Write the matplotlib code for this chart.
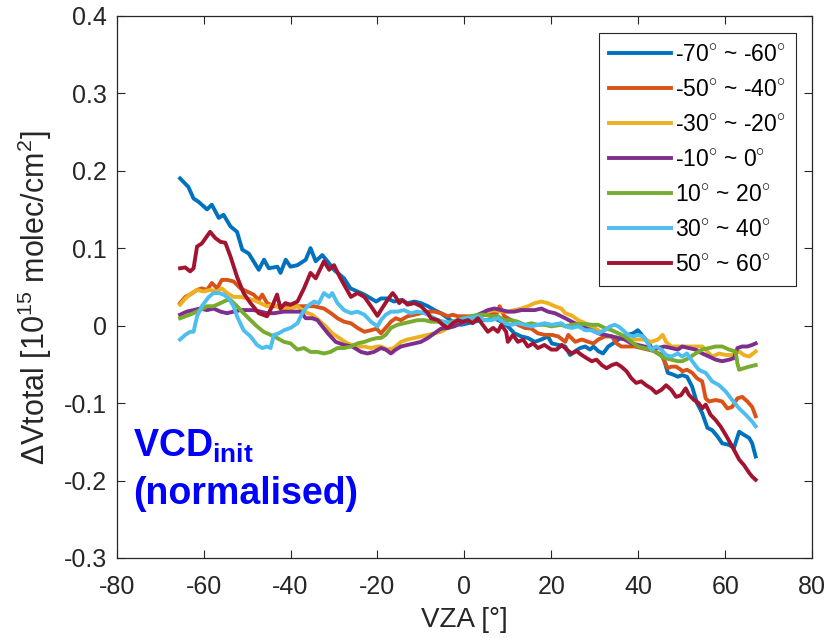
import matplotlib
matplotlib.use("Agg")
import matplotlib.pyplot as plt

plt.rcParams['font.family'] = ['Liberation Sans', 'DejaVu Sans']
plt.rcParams['mathtext.fontset'] = 'custom'
plt.rcParams['mathtext.rm'] = 'Liberation Sans'
plt.rcParams['mathtext.bf'] = 'Liberation Sans:bold'
plt.rcParams['mathtext.it'] = 'Liberation Sans:italic'
plt.rcParams['axes.unicode_minus'] = False

labels = [r'-70$^{\circ}$ ~ -60$^{\circ}$', r'-50$^{\circ}$ ~ -40$^{\circ}$',
          r'-30$^{\circ}$ ~ -20$^{\circ}$', r'-10$^{\circ}$ ~ 0$^{\circ}$',
          r'10$^{\circ}$ ~ 20$^{\circ}$', r'30$^{\circ}$ ~ 40$^{\circ}$',
          r'50$^{\circ}$ ~ 60$^{\circ}$']
colors = ['#0072BD', '#D95319', '#EDB120', '#7E2F8E', '#77AC30', '#4DBEEE', '#A2142F']

# -70 ~ -60
vza_1 = [-65.4,-63.5,-62.3,-61.2,-59.2,-58.1,-56.5,-55.4,-53.8,-52.3,-51.1,-49.6,-47.3,-46.1,-45.0,-43.0,-42.3,-41.1,-40.0,-38.4,-36.5,-35.4,-34.2,-32.7,-31.5,-30.0,-27.7,-26.2,-23.0,-20.3,
         -19.2,-17.7,-16.2,-14.6,-13.1,-11.5,-10.0,-8.4,-6.9,-5.4,-3.8,-2.3,-0.8,0.8,2.3,3.9,5.4,6.9,8.5,10.0,11.5,13.1,14.6,16.2,17.7,19.2,
         20.1,21.6,23.2,24.3,25.5,26.6,27.8,28.9,29.7,30.8,31.9,33.1,34.2,35.4,36.5,37.6,38.8,39.9,41.1,42.2,43.3,44.5,45.6,46.8,47.9,49.1,
         50.1,51.2,52.4,53.5,54.7,55.9,57.0,58.2,59.3,60.9,62.0,63.2,64.3,65.5,66.2,67.0]
dv_1 = [0.190,0.179,0.164,0.160,0.150,0.156,0.139,0.143,0.128,0.121,0.098,0.093,0.072,0.085,0.074,0.076,0.068,0.085,0.076,0.078,0.085,0.100,0.083,0.091,0.083,0.072,0.061,0.048,0.040,0.031,
        0.035,0.035,0.031,0.033,0.029,0.031,0.029,0.025,0.020,0.016,0.0095,0.003,0.001,0.003,0.005,0.007,0.007,0.0095,0.005,-0.001,-0.010,-0.014,-0.016,-0.021,-0.018,-0.014,
        -0.023,-0.025,-0.027,-0.038,-0.033,-0.029,-0.027,-0.031,-0.027,-0.033,-0.036,-0.027,-0.023,-0.018,-0.014,-0.012,-0.010,-0.006,-0.014,-0.021,-0.031,-0.036,-0.038,-0.061,-0.063,-0.066,
        -0.064,-0.066,-0.079,-0.100,-0.113,-0.132,-0.135,-0.143,-0.152,-0.154,-0.158,-0.137,-0.141,-0.145,-0.152,-0.169]

# -50 ~ -40
vza_2 = [-65.4,-64.2,-63.1,-61.5,-60.4,-59.2,-58.1,-56.9,-55.8,-54.6,-53.1,-51.5,-50.0,-48.5,-47.3,-46.5,-45.4,-43.8,-42.3,-40.0,-38.4,-36.9,-34.6,-32.3,-30.7,-29.2,-27.7,-26.1,-24.6,-23.0,-21.5,-20.2,
         -19.2,-18.1,-16.9,-15.8,-14.6,-13.1,-11.5,-10.0,-8.4,-6.9,-5.4,-3.8,-2.7,-1.5,0.0,1.5,3.1,4.6,6.2,7.3,8.1,9.2,10.8,12.3,13.9,15.4,16.9,18.5,
         20.1,21.6,23.2,23.9,25.5,27.0,28.5,29.7,30.8,32.3,33.9,35.0,36.1,37.6,39.2,40.7,42.2,43.7,45.3,46.0,46.8,47.6,48.7,49.8,
         50.1,51.2,52.4,53.5,54.7,55.5,56.3,57.8,59.3,60.5,61.6,62.8,63.9,65.1,66.2,67.0]
dv_2 = [0.029,0.037,0.040,0.046,0.048,0.046,0.055,0.048,0.059,0.059,0.057,0.048,0.044,0.040,0.033,0.040,0.029,0.025,0.025,0.025,0.025,0.025,0.025,0.022,0.016,0.0095,0.005,0.003,-0.003,-0.008,-0.006,-0.004,
        -0.010,-0.003,0.005,0.0095,0.007,0.012,0.014,0.016,0.018,0.018,0.016,0.012,0.014,0.012,0.012,0.012,0.012,0.014,0.016,0.014,0.025,0.012,0.007,0.001,-0.003,-0.004,-0.010,-0.012,
        -0.012,-0.014,-0.021,-0.012,-0.021,-0.018,-0.021,-0.023,-0.018,-0.014,-0.014,-0.023,-0.027,-0.027,-0.027,-0.029,-0.031,-0.033,-0.038,-0.046,-0.055,-0.053,-0.053,-0.057,
        -0.059,-0.057,-0.061,-0.068,-0.072,-0.094,-0.098,-0.096,-0.098,-0.107,-0.105,-0.094,-0.092,-0.098,-0.105,-0.117]

# -30 ~ -20
vza_3 = [-65.4,-64.2,-62.7,-61.5,-60.0,-58.5,-56.9,-55.8,-54.6,-53.1,-51.5,-50.0,-48.5,-46.9,-45.4,-43.8,-42.3,-40.0,-38.4,-36.9,-35.0,-33.5,-31.9,-30.4,-28.8,-26.9,-24.6,-23.0,-21.5,-20.0,
         -19.2,-17.7,-16.2,-14.6,-13.1,-11.5,-10.0,-8.4,-6.9,-5.4,-3.8,-2.3,-0.8,0.8,2.3,3.9,5.4,6.9,8.5,10.0,11.5,13.1,14.6,16.2,17.7,19.2,20.8,22.3,
         23.2,24.7,26.2,27.8,29.3,30.8,32.3,33.9,35.4,36.9,38.4,39.9,41.4,43.0,44.5,45.6,46.4,47.6,49.1,
         50.1,51.6,53.2,54.7,55.9,57.0,58.6,60.1,61.6,63.2,64.3,65.5,67.0]
dv_3 = [0.027,0.035,0.042,0.046,0.044,0.046,0.044,0.048,0.042,0.037,0.037,0.035,0.033,0.029,0.025,0.027,0.022,0.022,0.025,0.018,0.014,0.007,-0.001,-0.010,-0.016,-0.023,-0.027,-0.027,-0.029,-0.027,
        -0.027,-0.031,-0.029,-0.021,-0.018,-0.016,-0.014,-0.012,-0.010,-0.008,-0.003,0.001,0.003,0.007,0.0095,0.014,0.018,0.020,0.018,0.018,0.020,0.022,0.025,0.029,0.031,0.029,0.025,0.022,
        0.016,0.013,0.007,0.003,-0.001,-0.006,-0.012,-0.014,-0.016,-0.016,-0.018,-0.018,-0.018,-0.021,-0.018,-0.012,-0.021,-0.027,-0.027,
        -0.027,-0.027,-0.027,-0.027,-0.0335,-0.040,-0.036,-0.038,-0.038,-0.0335,-0.038,-0.040,-0.0335]

# -10 ~ 0
vza_4 = [-65.4,-63.9,-62.3,-60.8,-59.2,-57.7,-56.1,-54.6,-53.1,-51.5,-50.0,-48.5,-46.9,-45.4,-43.8,-41.5,-39.2,-37.7,-36.5,-35.0,-33.8,-32.7,-31.1,-29.6,-27.7,-25.8,-23.8,-22.3,-20.8,
         -19.2,-18.1,-16.9,-15.8,-14.6,-13.1,-11.5,-10.0,-8.4,-6.9,-5.4,-3.8,-2.3,-0.8,0.8,2.3,3.9,5.4,6.9,8.5,10.0,11.5,13.1,14.6,16.2,17.7,19.2,20.8,22.3,
         23.2,24.7,26.2,27.8,29.3,30.8,32.3,33.9,35.4,36.9,38.4,39.9,41.4,43.0,44.5,46.0,47.6,49.1,
         50.1,51.6,53.2,54.7,56.3,57.8,59.3,60.9,62.0,62.8,63.9,65.1,66.2,67.0]
dv_4 = [0.014,0.018,0.020,0.022,0.020,0.022,0.018,0.016,0.018,0.020,0.020,0.020,0.018,0.016,0.016,0.018,0.018,0.018,0.0095,0.0095,0.007,-0.001,-0.012,-0.021,-0.025,-0.027,-0.034,-0.036,-0.034,
        -0.029,-0.031,-0.036,-0.031,-0.027,-0.025,-0.023,-0.021,-0.016,-0.010,-0.004,-0.003,-0.001,0.003,0.007,0.012,0.016,0.020,0.022,0.020,0.018,0.018,0.020,0.020,0.020,0.022,0.018,0.016,0.012,
        0.0095,0.005,0.001,-0.003,-0.006,-0.010,-0.012,-0.014,-0.016,-0.018,-0.023,-0.025,-0.027,-0.029,-0.029,-0.027,-0.029,-0.031,
        -0.027,-0.029,-0.031,-0.036,-0.040,-0.044,-0.046,-0.044,-0.042,-0.029,-0.027,-0.027,-0.025,-0.023]

# 10 ~ 20
vza_5 = [-65.4,-63.9,-62.3,-60.8,-59.2,-57.7,-56.1,-54.6,-53.8,-52.3,-50.8,-49.2,-47.7,-46.2,-44.6,-43.1,-41.5,-40.0,-38.4,-36.9,-35.4,-33.8,-32.3,-30.8,-29.2,-27.7,-26.1,-24.6,-23.0,-21.5,-20.0,
         -19.2,-18.1,-16.9,-15.4,-13.9,-12.3,-10.8,-9.2,-7.7,-6.1,-4.6,-3.1,-1.5,0.0,1.5,3.1,4.6,6.2,7.7,9.2,10.8,12.3,13.9,15.4,16.9,18.5,20.0,22.3,
         23.2,24.7,26.2,27.8,29.3,30.8,32.3,33.9,35.4,36.9,38.4,39.9,41.4,43.0,44.5,46.0,47.6,49.1,
         50.1,51.6,53.2,54.7,56.3,57.8,59.3,60.9,62.4,62.8,63.2,64.3,65.5,67.0]
dv_5 = [0.0095,0.0125,0.016,0.020,0.025,0.025,0.029,0.033,0.033,0.025,0.016,0.007,-0.001,-0.008,-0.012,-0.016,-0.021,-0.023,-0.031,-0.029,-0.034,-0.034,-0.036,-0.034,-0.029,-0.029,-0.027,-0.023,-0.021,-0.018,-0.016,
        -0.016,-0.012,-0.003,0.001,0.003,0.005,0.007,0.007,0.005,0.005,0.003,0.005,0.007,0.0095,0.012,0.014,0.014,0.012,0.012,0.007,0.007,0.005,0.001,0.003,0.001,0.001,-0.001,0.001,
        -0.001,0.001,0.002,0.002,0.001,0.001,-0.003,-0.006,-0.010,-0.014,-0.021,-0.027,-0.029,-0.031,-0.036,-0.042,-0.044,-0.046,
        -0.046,-0.042,-0.036,-0.031,-0.029,-0.027,-0.027,-0.031,-0.0335,-0.049,-0.057,-0.055,-0.053,-0.051]

# 30 ~ 40
vza_6 = [-65.4,-64.2,-63.1,-62.3,-61.5,-60.4,-58.8,-57.7,-56.5,-55.4,-54.2,-53.1,-52.3,-50.8,-49.2,-47.7,-46.5,-45.4,-44.6,-43.8,-42.7,-41.5,-40.0,-38.4,-37.3,-36.1,-34.6,-33.5,-32.3,-31.1,-30.4,-29.2,-27.7,-26.1,-24.6,-23.0,-21.5,-20.0,
         -19.2,-18.1,-16.9,-15.4,-13.9,-12.3,-10.8,-9.2,-7.7,-6.1,-4.6,-3.1,-1.5,0.0,1.5,3.1,4.6,6.2,7.7,9.2,10.8,12.3,13.9,15.4,16.9,18.5,20.0,22.3,
         23.2,24.7,26.2,27.8,29.3,30.8,32.3,33.5,34.6,35.4,36.5,37.6,38.8,39.9,41.1,42.2,43.0,44.1,45.3,46.4,47.6,49.1,
         50.1,51.2,52.4,53.9,55.5,57.0,58.6,60.1,61.6,63.2,64.7,66.2,67.0]
dv_6 = [-0.018,-0.012,-0.008,-0.008,0.012,0.025,0.037,0.042,0.042,0.040,0.035,0.025,0.012,-0.006,-0.014,-0.025,-0.029,-0.027,-0.029,-0.012,-0.010,-0.006,-0.003,0.003,0.016,0.025,0.031,0.029,0.042,0.037,0.042,0.029,0.020,0.016,0.018,0.014,0.005,-0.001,
        0.007,0.014,0.018,0.018,0.020,0.016,0.018,0.016,0.012,0.007,0.005,0.003,0.007,0.0095,0.0095,0.012,0.007,0.007,0.0095,0.003,0.001,0.003,0.001,-0.001,0.001,0.003,0.001,0.003,
        -0.001,-0.003,-0.001,-0.006,-0.006,-0.010,-0.006,-0.001,0.001,-0.001,-0.006,-0.012,-0.014,-0.012,-0.014,-0.023,-0.031,-0.027,-0.031,-0.038,-0.040,-0.036,
        -0.040,-0.036,-0.046,-0.057,-0.061,-0.072,-0.077,-0.085,-0.096,-0.107,-0.115,-0.124,-0.130]

# 50 ~ 60
vza_7 = [-65.4,-64.2,-63.1,-62.3,-61.5,-60.4,-58.5,-57.3,-56.1,-55.0,-53.8,-52.3,-50.8,-49.2,-47.3,-45.4,-44.2,-43.1,-42.3,-41.2,-40.0,-38.4,-36.9,-35.4,-34.2,-32.3,-31.1,-30.0,-28.5,-26.1,-24.6,-23.0,-21.5,-20.0,
         -19.2,-17.7,-16.5,-15.8,-15.0,-14.2,-13.1,-11.5,-10.0,-8.4,-7.7,-6.1,-5.0,-3.8,-2.7,-1.5,-0.4,0.8,1.9,3.1,4.2,5.4,6.6,7.7,8.5,9.6,10.0,11.2,12.3,13.5,14.6,15.8,16.9,18.4,20.0,
         21.2,22.4,23.5,24.7,25.8,27.0,28.1,29.3,30.4,31.6,32.7,33.9,35.0,36.1,37.3,38.4,39.5,40.7,41.8,43.0,44.1,45.3,46.4,47.6,48.7,49.8,
         50.9,51.6,52.8,53.9,54.7,55.5,56.6,57.8,58.9,60.1,61.6,63.2,64.3,65.5,66.2,67.0]
dv_7 = [0.074,0.075,0.070,0.074,0.102,0.106,0.121,0.113,0.108,0.107,0.089,0.063,0.042,0.029,0.016,0.012,0.025,0.040,0.022,0.029,0.027,0.031,0.048,0.068,0.061,0.083,0.072,0.078,0.061,0.037,0.042,0.037,0.025,0.0125,
        0.020,0.033,0.042,0.037,0.029,0.033,0.027,0.029,0.025,0.016,0.0095,0.007,0.001,-0.003,0.003,0.007,0.005,0.007,0.003,0.0095,0.001,-0.008,-0.003,-0.008,0.001,-0.008,-0.021,-0.012,-0.021,-0.018,-0.027,-0.023,-0.029,-0.025,-0.031,
        -0.031,-0.025,-0.031,-0.036,-0.033,-0.038,-0.042,-0.046,-0.044,-0.051,-0.055,-0.051,-0.049,-0.053,-0.059,-0.068,-0.074,-0.072,-0.077,-0.081,-0.087,-0.083,-0.077,-0.083,-0.092,-0.090,
        -0.081,-0.089,-0.096,-0.100,-0.107,-0.102,-0.115,-0.122,-0.130,-0.141,-0.156,-0.173,-0.180,-0.190,-0.195,-0.199]

all_vza = [vza_1, vza_2, vza_3, vza_4, vza_5, vza_6, vza_7]
all_dv = [dv_1, dv_2, dv_3, dv_4, dv_5, dv_6, dv_7]

xticks = [-80, -60, -40, -20, 0, 20, 40, 60, 80]
yticks = [-0.3, -0.2, -0.1, 0, 0.1, 0.2, 0.3, 0.4]
ytick_labels = ['-0.3', '-0.2', '-0.1', '0', '0.1', '0.2', '0.3', '0.4']

fig = plt.figure(figsize=(8.33, 6.38), dpi=100)
ax = fig.add_axes([0.140, 0.1254, 0.835, 0.850])

for xv, yv, c, lab in zip(all_vza, all_dv, colors, labels):
    ax.plot(xv, yv, color=c, lw=2.8, label=lab, solid_joinstyle='round')

ax.set_xlim(-80, 80)
ax.set_ylim(-0.3, 0.4)
ax.set_xticks(xticks)
ax.set_yticks(yticks)
ax.set_yticklabels(ytick_labels)
ax.tick_params(direction='in', top=True, right=True, labelsize=18, colors='#262626',
               length=5.5, width=0.8)
ax.tick_params(axis='x', pad=12)
ax.tick_params(axis='y', pad=7)
for s in ax.spines.values():
    s.set_color('#262626')
    s.set_linewidth(0.9)

ax.set_xlabel('VZA [°]', fontsize=20, color='#262626', labelpad=6)
ax.set_ylabel(r'$\Delta$Vtotal [10$^{15}$ molec/cm$^{2}$]', fontsize=22, color='#262626')
ax.yaxis.set_label_coords(-0.090, 0.48)

ax.text(-76.3, -0.1694, r'$\mathbf{VCD_{init}}$', fontsize=27, color='#0000FF',
        ha='left', va='baseline')
ax.text(-76.3, -0.230, '(normalised)', fontsize=27, color='#0000FF', fontweight='bold',
        ha='left', va='baseline')

leg = ax.legend(loc='upper right', bbox_to_anchor=(0.977, 0.968), borderaxespad=0,
                fontsize=16.5, handlelength=2.7, handletextpad=0.2, labelspacing=0.52,
                fancybox=False, framealpha=1, edgecolor='#262626', borderpad=0.45)
leg.get_frame().set_linewidth(0.8)

fig.savefig('out.png', dpi=100)
